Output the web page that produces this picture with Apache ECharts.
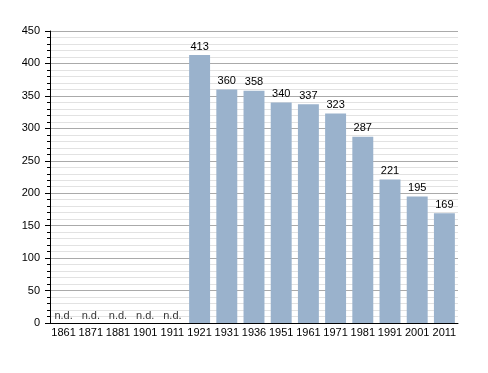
<!DOCTYPE html>
<html><head><meta charset="utf-8">
<script src="https://cdn.jsdelivr.net/npm/echarts@6/dist/echarts.min.js"></script>
<style>html,body{margin:0;padding:0;background:#fff}#c{width:488px;height:373px}</style>
</head><body><div id="c"></div>
<script>
const categories = ['1861','1871','1881','1901','1911','1921','1931','1936','1951','1961','1971','1981','1991','2001','2011'];
const population = [null,null,null,null,null,413,360,358,340,337,323,287,221,195,169];
const noDataLabel = 'n.d.';
const yTicks = [0,50,100,150,200,250,300,350,400,450];

const noData = population.map(v => v === null ? 0 : null);
const chart = echarts.init(document.getElementById('c'));
const font = 'Liberation Sans, Arial, sans-serif';
chart.setOption({
  animation: false,
  grid: {left: 50, right: 30, top: 31, bottom: 50},
  xAxis: {
    type: 'category', data: categories,
    axisLine: {lineStyle: {color: '#000', width: 1}},
    axisTick: {show: false},
    axisLabel: {color: '#000', fontFamily: font, fontSize: 11, margin: 4, interval: 0}
  },
  yAxis: {
    type: 'value', min: yTicks[0], max: yTicks[yTicks.length-1], interval: 50,
    axisLine: {show: true, lineStyle: {color: '#000', width: 1}},
    axisTick: {show: true, inside: false, length: 5, lineStyle: {color: '#000'}},
    minorTick: {show: true, splitNumber: 5, length: 3, lineStyle: {color: '#000'}},
    axisLabel: {color: '#000', fontFamily: font, fontSize: 11, margin: 10},
    splitLine: {show: true, lineStyle: {color: '#aaa', width: 1}},
    minorSplitLine: {show: true, lineStyle: {color: '#e2e2e2', width: 1}}
  },
  series: [{
    type: 'bar', data: population, barWidth: '77%',
    itemStyle: {color: '#9ab2cc'},
    label: {show: true, position: 'top', distance: 3, color: '#000', fontFamily: font, fontSize: 11}
  }, {
    type: 'scatter', data: noData, symbolSize: 0, itemStyle: {color: '#000'},
    label: {show: true, position: 'top', distance: 2, formatter: noDataLabel, color: '#000', fontFamily: font, fontSize: 11}
  }]
});
</script></body></html>
